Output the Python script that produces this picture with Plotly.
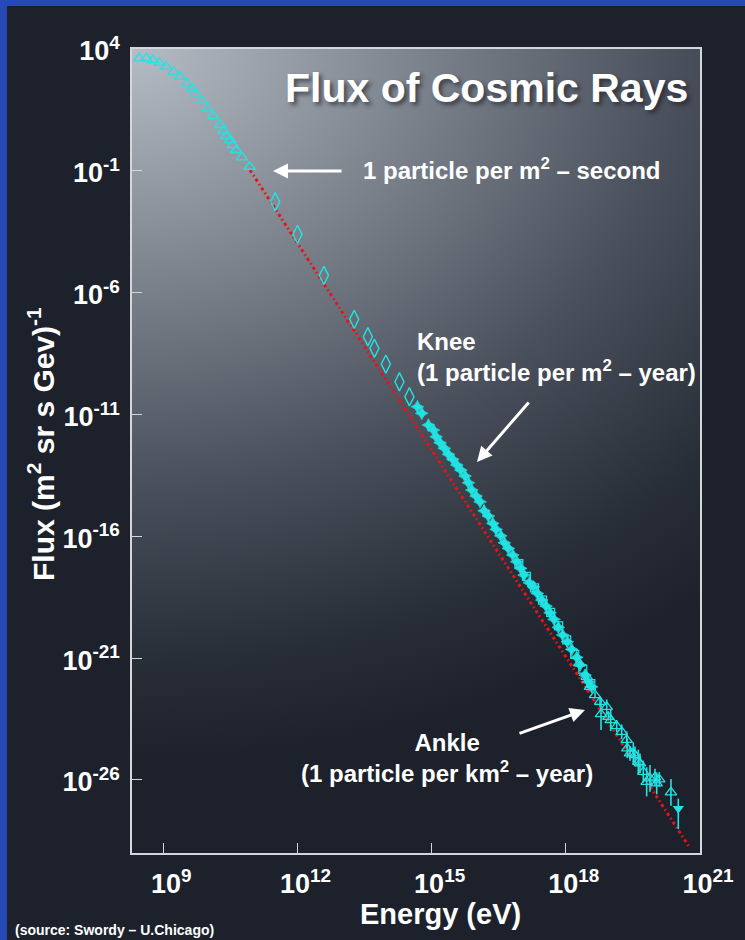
import base64
import math
import plotly.graph_objects as go

# ---------------- data (log10 of energy in eV, log10 of flux) ----------------
# direct measurements at low energy (open triangles)
low_logE = [8.463, 8.620, 8.769, 8.917, 9.066, 9.230, 9.379, 9.529, 9.641, 9.715,
            9.864, 9.989, 10.110, 10.273, 10.347, 10.407, 10.497, 10.557, 10.631,
            10.758, 10.928]
low_logF = [3.618, 3.618, 3.548, 3.438, 3.273, 3.068, 2.863, 2.592, 2.387, 2.181,
            1.878, 1.566, 1.250, 0.880, 0.646, 0.429, 0.264, 0.059, -0.146,
            -0.446, -0.832]

# balloon / satellite points (open diamonds)
mid_logE = [11.502, 12.001, 12.591, 13.268, 13.574, 13.721, 13.976, 14.280, 14.503]
mid_logF = [-2.268, -3.607, -5.290, -7.096, -7.810, -8.286, -8.931, -9.658, -10.273]

# air-shower points through the knee (filled)
knee_logE = [14.682, 14.780, 14.928, 15.040, 15.100, 15.189, 15.286, 15.375, 15.473,
             15.563, 15.652, 15.748, 15.822, 15.898, 15.994, 16.083, 16.173, 16.269,
             16.367, 16.441, 16.546, 16.626, 16.716, 16.814, 16.903, 16.993, 17.066,
             17.185, 17.274, 17.364, 17.462, 17.558, 17.647, 17.737, 17.833, 17.931,
             18.034, 18.132, 18.244, 18.318, 18.430, 18.503, 18.579]
knee_logF = [-10.684, -10.955, -11.435, -11.640, -11.915, -12.162, -12.391, -12.638,
             -12.843, -13.077, -13.282, -13.529, -13.804, -14.103, -14.350, -14.584,
             -14.953, -15.171, -15.471, -15.717, -15.980, -16.267, -16.497, -16.772,
             -17.047, -17.318, -17.593, -17.909, -18.073, -18.344, -18.619, -18.865,
             -19.140, -19.411, -19.739, -20.056, -20.331, -20.643, -20.971, -21.287,
             -21.698, -21.973, -22.178]

# second air-shower set (open squares)
sq_logE = [16.95, 17.12, 17.30, 17.48, 17.66, 17.84, 18.02, 18.20, 18.38, 18.56]
sq_logF = [-17.12, -17.65, -18.12, -18.62, -19.12, -19.68, -20.25, -20.85, -21.45, -22.05]

# highest energies with error bars (open triangles), errors in decades
uhe_logE = [18.302, 18.468, 18.541, 18.653, 18.765, 18.787, 18.914, 18.950, 19.004,
            19.138, 19.250, 19.361, 19.375, 19.435, 19.509, 19.547, 19.621, 19.659,
            19.733, 19.808, 19.882, 19.994, 20.032, 20.090, 20.351]
uhe_logF = [-21.218, -21.768, -22.178, -22.519, -22.794, -23.299, -22.999, -23.410,
            -23.545, -23.791, -24.025, -24.360, -24.707, -24.912, -24.910, -24.982,
            -25.257, -25.320, -25.667, -26.078, -25.938, -25.897, -26.140, -25.979,
            -26.513]
uhe_err = [0.10, 0.12, 0.15, 0.12, 0.20, 0.65, 0.30, 0.15, 0.45, 0.25, 0.30, 0.35,
           0.40, 0.30, 0.45, 0.35, 0.50, 0.40, 0.45, 0.60, 0.55, 0.35, 0.45, 0.30, 0.55]

# upper limit at the end of the spectrum
lim_logE = [20.515]
lim_logF = [-27.170]
lim_err_up = [0.40]
lim_err_down = [0.85]

# single power-law guide
fit_logE = [10.94, 20.78]
fit_logF = [-0.97, -28.81]

# axis decades and which of them carry a label
x_decades = list(range(9, 22))
x_labelled = [9, 12, 15, 18, 21]
y_decades = list(range(-28, 5))
y_labelled = [4, -1, -6, -11, -16, -21, -26]

# ---------------- styling ----------------
W, H = 745, 940
ML, MR, MT, MB = 132, 45, 49, 87
PW, PH = W - ML - MR, H - MT - MB
CYAN = "#22e3e3"
WHITE = "#ffffff"
NARROW = "Liberation Sans Narrow, Arial Narrow, Liberation Sans, Arial, sans-serif"
SANS = "Liberation Sans, Arial, Helvetica, sans-serif"
PAGE = "#1c212b"
BLUE = "#2549b5"
AXIS = "#d3d6db"
X_RANGE = [8.3, 21.0005]
Y_RANGE = [-29.0005, 4.0005]


def px(x):
    return (x - ML) / PW


def py(y):
    return (H - MB - y) / PH


def lin(v):
    return [10.0 ** a for a in v]


def err_up(logf, e):
    return [10.0 ** (f + d) - 10.0 ** f for f, d in zip(logf, e)]


def err_dn(logf, e):
    return [10.0 ** f - 10.0 ** (f - d) for f, d in zip(logf, e)]


fig = go.Figure()

fig.add_trace(go.Scatter(
    x=lin(fit_logE), y=lin(fit_logF), mode="lines",
    line=dict(color="#e81414", width=3, dash="3px,3px,1.5px,3px"),
    hoverinfo="skip"))

fig.add_trace(go.Scatter(
    x=lin(low_logE), y=lin(low_logF), mode="markers",
    marker=dict(symbol="triangle-up-open", size=10, color=CYAN, line=dict(width=1.3))))

fig.add_trace(go.Scatter(
    x=lin(mid_logE), y=lin(mid_logF), mode="markers",
    marker=dict(symbol="diamond-tall-open", size=13, color=CYAN, line=dict(width=1.4))))

fig.add_trace(go.Scatter(
    x=lin(sq_logE), y=lin(sq_logF), mode="markers",
    marker=dict(symbol="square-open", size=8, color=CYAN, line=dict(width=1.2))))

fig.add_trace(go.Scatter(
    x=lin(knee_logE), y=lin(knee_logF), mode="markers",
    marker=dict(symbol="star-diamond", size=9, color=CYAN,
                line=dict(width=0.8, color=CYAN))))

fig.add_trace(go.Scatter(
    x=lin(uhe_logE), y=lin(uhe_logF), mode="markers",
    marker=dict(symbol="triangle-up-open", size=10, color=CYAN, line=dict(width=1.3)),
    error_y=dict(type="data", symmetric=False,
                 array=err_up(uhe_logF, uhe_err), arrayminus=err_dn(uhe_logF, uhe_err),
                 color=CYAN, thickness=1.6, width=0)))

fig.add_trace(go.Scatter(
    x=lin(lim_logE), y=lin(lim_logF), mode="markers",
    marker=dict(symbol="triangle-down", size=10, color=CYAN),
    error_y=dict(type="data", symmetric=False,
                 array=err_up(lim_logF, lim_err_up), arrayminus=err_dn(lim_logF, lim_err_down),
                 color=CYAN, thickness=1.6, width=0)))

# ---------------- axes ----------------
# labelled decades on the main axes, every decade plus minor ticks on an overlay
x_lab_vals = [10.0 ** n for n in x_labelled]
x_lab_text = [f"10<sup>{n}</sup>" for n in x_labelled]
x_all_vals = [10.0 ** n for n in x_decades]
x_minor = [k * 10.0 ** n for n in range(8, 21) for k in range(2, 10)
           if 8.3 < n + math.log10(k) < 21]

y_lab_vals = [10.0 ** n for n in y_labelled]
y_lab_text = [f"10<sup>{n}</sup>" for n in y_labelled]
y_all_vals = [10.0 ** n for n in y_decades]
y_minor = [5 * 10.0 ** n for n in range(-29, 4)]

tick_font = dict(family=NARROW, size=27, color=WHITE, weight="bold")
minor_style = dict(tickmode="array", ticks="inside", ticklen=5, tickwidth=1,
                   tickcolor=AXIS, showgrid=False)

fig.update_layout(
    xaxis=dict(
        type="log", range=X_RANGE, showgrid=False, zeroline=False,
        showline=True, linecolor=AXIS, linewidth=1.6, mirror=True,
        ticks="inside", ticklen=10, tickwidth=1, tickcolor=AXIS,
        tickmode="array", tickvals=x_lab_vals, ticktext=x_lab_text,
        tickfont=tick_font, ticklabelstandoff=6, ticklabelshift=8),
    yaxis=dict(
        type="log", range=Y_RANGE, showgrid=False, zeroline=False,
        showline=True, linecolor=AXIS, linewidth=1.6, mirror=True,
        ticks="inside", ticklen=10, tickwidth=1, tickcolor=AXIS,
        tickmode="array", tickvals=y_lab_vals, ticktext=y_lab_text,
        tickfont=tick_font, ticklabelstandoff=5, ticklabelshift=2),
    xaxis2=dict(
        type="log", range=X_RANGE, overlaying="x", anchor="y", side="bottom",
        showgrid=False, zeroline=False, showline=False, showticklabels=False,
        ticks="inside", ticklen=10, tickwidth=1, tickcolor=AXIS,
        tickmode="array", tickvals=x_all_vals,
        minor=dict(tickvals=x_minor, **minor_style)),
    yaxis2=dict(
        type="log", range=Y_RANGE, overlaying="y", anchor="x", side="left",
        showgrid=False, zeroline=False, showline=False, showticklabels=False,
        ticks="inside", ticklen=10, tickwidth=1, tickcolor=AXIS,
        tickmode="array", tickvals=y_all_vals,
        minor=dict(tickvals=y_minor, **minor_style)),
)

# ---------------- background ----------------
svg = (
    f"<svg xmlns='http://www.w3.org/2000/svg' width='{PW}' height='{PH}' "
    f"viewBox='0 0 {PW} {PH}' preserveAspectRatio='none'>"
    "<defs><radialGradient id='g' gradientUnits='userSpaceOnUse' cx='0' cy='0' r='1' "
    "gradientTransform='scale(900 720)'>"
    "<stop offset='0' stop-color='#b6bcc6'/>"
    "<stop offset='0.3' stop-color='#7f8690'/>"
    "<stop offset='0.6' stop-color='#4b515c'/>"
    "<stop offset='0.85' stop-color='#282e38'/>"
    "<stop offset='1' stop-color='#1c212b'/>"
    "</radialGradient></defs>"
    f"<rect width='{PW}' height='{PH}' fill='url(#g)'/></svg>"
)
bg_src = "data:image/svg+xml;base64," + base64.b64encode(svg.encode()).decode()

shapes = [
    dict(type="rect", xref="paper", yref="paper", layer="below",
         x0=px(0), x1=px(7), y0=py(H), y1=py(0), fillcolor=BLUE, line=dict(width=0)),
    dict(type="rect", xref="paper", yref="paper", layer="below",
         x0=px(0), x1=px(W), y0=py(6), y1=py(0), fillcolor=BLUE, line=dict(width=0)),
]

# ---------------- text ----------------
ann_font = dict(family=SANS, size=24, color=WHITE, weight="bold")
annotations = [
    # chart title with soft shadow
    dict(x=px(690), y=py(88), xref="paper", yref="paper", xanchor="right", yanchor="middle",
         text="Flux of Cosmic Rays", showarrow=False,
         font=dict(family=SANS, size=41, color=WHITE, weight="bold",
                   shadow="3px 3px 4px rgba(20,25,35,0.6)")),
    # labels
    dict(x=px(361), y=py(169), xref="paper", yref="paper", xanchor="left", yanchor="middle",
         text="1 particle per m<sup>2</sup> – second", showarrow=False, font=ann_font),
    dict(x=px(415), y=py(357), xref="paper", yref="paper", xanchor="left", yanchor="middle",
         align="left", text="Knee<br>(1 particle per m<sup>2</sup> – year)",
         showarrow=False, font=ann_font),
    dict(x=px(447), y=py(758), xref="paper", yref="paper", xanchor="center", yanchor="middle",
         align="center", text="Ankle<br>(1 particle per km<sup>2</sup> – year)",
         showarrow=False, font=ann_font),
    # arrows
    dict(x=px(273), y=py(171), xref="paper", yref="paper", ax=343 - 273, ay=0,
         text="", showarrow=True, arrowhead=2, arrowsize=1, arrowwidth=3,
         arrowcolor=WHITE, standoff=0),
    dict(x=px(477), y=py(462), xref="paper", yref="paper", ax=530 - 477, ay=401 - 462,
         text="", showarrow=True, arrowhead=2, arrowsize=1, arrowwidth=3,
         arrowcolor=WHITE, standoff=0),
    dict(x=px(585), y=py(710), xref="paper", yref="paper", ax=518 - 585, ay=734 - 710,
         text="", showarrow=True, arrowhead=2, arrowsize=1, arrowwidth=3,
         arrowcolor=WHITE, standoff=0),
    # axis titles
    dict(x=px(440), y=py(914), xref="paper", yref="paper", xanchor="center", yanchor="middle",
         text="Energy (eV)", showarrow=False,
         font=dict(family=NARROW, size=29, color=WHITE, weight="bold")),
    dict(x=px(41), y=py(444), xref="paper", yref="paper", xanchor="center", yanchor="middle",
         text="Flux (m<sup>2</sup> sr s Gev)<sup>-1</sup>", textangle=-90, showarrow=False,
         font=dict(family=NARROW, size=30, color=WHITE, weight="bold")),
    # source note
    dict(x=px(13), y=py(930), xref="paper", yref="paper", xanchor="left", yanchor="middle",
         text="(source: Swordy – U.Chicago)", showarrow=False,
         font=dict(family=SANS, size=14, color=WHITE, weight="bold")),
]

fig.update_layout(
    width=W, height=H, autosize=False,
    margin=dict(l=ML, r=MR, t=MT, b=MB, pad=0),
    paper_bgcolor=PAGE, plot_bgcolor="rgba(0,0,0,0)",
    showlegend=False,
    images=[dict(source=bg_src, xref="paper", yref="paper", x=0, y=1, sizex=1, sizey=1,
                 xanchor="left", yanchor="top", sizing="stretch", layer="below")],
    shapes=shapes,
    annotations=annotations,
)

fig.write_html("out.html")
